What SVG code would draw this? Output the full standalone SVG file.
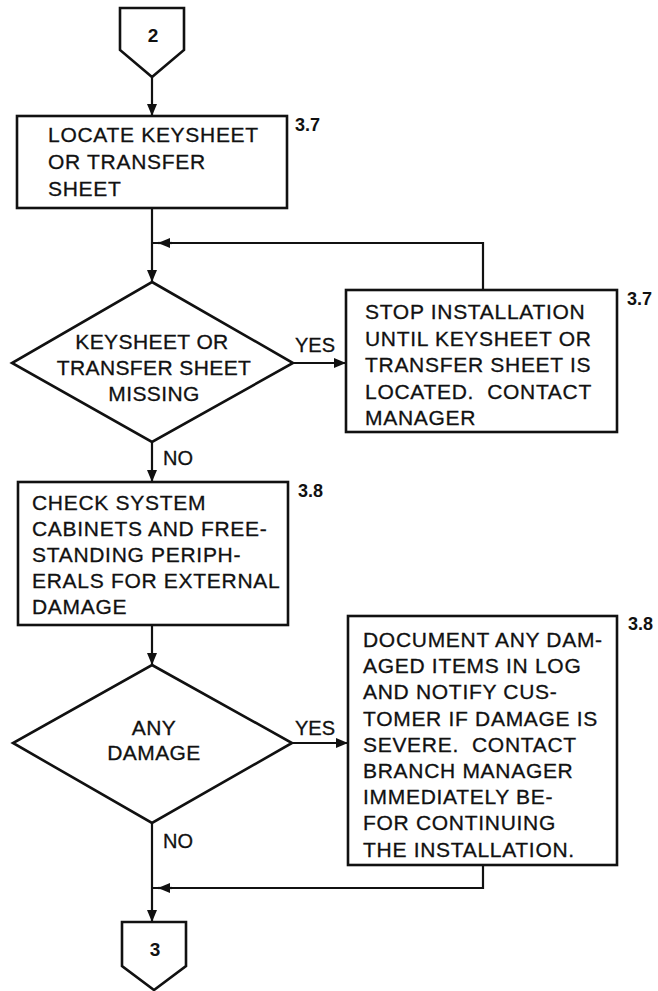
<svg xmlns="http://www.w3.org/2000/svg" width="658" height="991" viewBox="0 0 658 991">
<style>
.shape{fill:#fff;stroke:#111;stroke-width:2.6;stroke-linejoin:miter}
.conn{fill:none;stroke:#111;stroke-width:2.2}
.t{font-family:"Liberation Sans",Arial,sans-serif;font-size:21px;letter-spacing:0.7px;fill:#111;stroke:#111;stroke-width:0.3}
.d{font-family:"Liberation Sans",Arial,sans-serif;font-size:21px;letter-spacing:0.4px;fill:#111;stroke:#111;stroke-width:0.3;text-anchor:middle}
.lbl{font-family:"Liberation Sans",Arial,sans-serif;font-size:20px;fill:#111;stroke:#111;stroke-width:0.3}
.ref{font-family:"Liberation Sans",Arial,sans-serif;font-size:18px;font-weight:bold;fill:#111}
.num{font-family:"Liberation Sans",Arial,sans-serif;font-size:19px;font-weight:bold;fill:#111;text-anchor:middle}
</style>
<defs>
<marker id="arr" markerUnits="userSpaceOnUse" markerWidth="13" markerHeight="10" refX="12" refY="5" orient="auto">
<path d="M0,0 L12,5 L0,10 z" fill="#111"/>
</marker>
</defs>
<g id="connectors">
<path class="conn" d="M152,77 V116" marker-end="url(#arr)"/>
<path class="conn" d="M152,208 V282" marker-end="url(#arr)"/>
<path class="conn" d="M483,290 V243 H152"/>
<path class="conn" d="M172,243 H158" marker-end="url(#arr)"/>
<path class="conn" d="M293,363 H346" marker-end="url(#arr)"/>
<path class="conn" d="M152,442 V482" marker-end="url(#arr)"/>
<path class="conn" d="M152,625 V665" marker-end="url(#arr)"/>
<path class="conn" d="M292,743 H348" marker-end="url(#arr)"/>
<path class="conn" d="M152,823 V922" marker-end="url(#arr)"/>
<path class="conn" d="M483,865 V888 H152"/>
<path class="conn" d="M172,888 H158" marker-end="url(#arr)"/>
<text class="lbl" x="295" y="352">YES</text>
<text class="lbl" x="163" y="465">NO</text>
<text class="lbl" x="295" y="735">YES</text>
<text class="lbl" x="163" y="848">NO</text>
</g>
<g id="conn2">
<path class="shape" d="M120,8 H184 V50 L152,77 L120,50 Z"/>
<text class="num" x="153" y="42">2</text>
</g>
<g id="box1">
<rect class="shape" x="17" y="116" width="270" height="92"/>
<text class="t" x="48" y="142">LOCATE KEYSHEET</text>
<text class="t" x="48" y="169">OR TRANSFER</text>
<text class="t" x="48" y="196">SHEET</text>
<text class="ref" x="295" y="131">3.7</text>
</g>
<g id="decision1">
<path class="shape" d="M152,282 L293,363 L152,442 L12,363 Z"/>
<text class="d" x="152" y="349">KEYSHEET OR</text>
<text class="d" x="154" y="375">TRANSFER SHEET</text>
<text class="d" x="154" y="401">MISSING</text>
</g>
<g id="box2">
<rect class="shape" x="346" y="290" width="271" height="142"/>
<text class="t" x="365" y="319">STOP INSTALLATION</text>
<text class="t" x="365" y="345.5">UNTIL KEYSHEET OR</text>
<text class="t" x="365" y="372">TRANSFER SHEET IS</text>
<text class="t" x="365" y="398.5">LOCATED.&#160; CONTACT</text>
<text class="t" x="365" y="425">MANAGER</text>
<text class="ref" x="627" y="305">3.7</text>
</g>
<g id="box3">
<rect class="shape" x="18" y="482" width="270" height="143"/>
<text class="t" x="32" y="510">CHECK SYSTEM</text>
<text class="t" x="32" y="536">CABINETS AND FREE-</text>
<text class="t" x="32" y="562">STANDING PERIPH-</text>
<text class="t" x="32" y="588">ERALS FOR EXTERNAL</text>
<text class="t" x="32" y="614">DAMAGE</text>
<text class="ref" x="298" y="497">3.8</text>
</g>
<g id="decision2">
<path class="shape" d="M152,665 L292,743 L152,823 L13,743 Z"/>
<text class="d" x="154" y="735">ANY</text>
<text class="d" x="154" y="760">DAMAGE</text>
</g>
<g id="box4">
<rect class="shape" x="348" y="616" width="269" height="249"/>
<text class="t" x="363" y="647">DOCUMENT ANY DAM-</text>
<text class="t" x="363" y="673">AGED ITEMS IN LOG</text>
<text class="t" x="363" y="699">AND NOTIFY CUS-</text>
<text class="t" x="363" y="726">TOMER IF DAMAGE IS</text>
<text class="t" x="363" y="752">SEVERE.&#160; CONTACT</text>
<text class="t" x="363" y="778">BRANCH MANAGER</text>
<text class="t" x="363" y="804">IMMEDIATELY BE-</text>
<text class="t" x="363" y="830">FOR CONTINUING</text>
<text class="t" x="363" y="857">THE INSTALLATION.</text>
<text class="ref" x="628" y="630">3.8</text>
</g>
<g id="conn3">
<path class="shape" d="M122,922 H186 V966 L154,990 L122,966 Z"/>
<text class="num" x="155" y="956">3</text>
</g>
</svg>
